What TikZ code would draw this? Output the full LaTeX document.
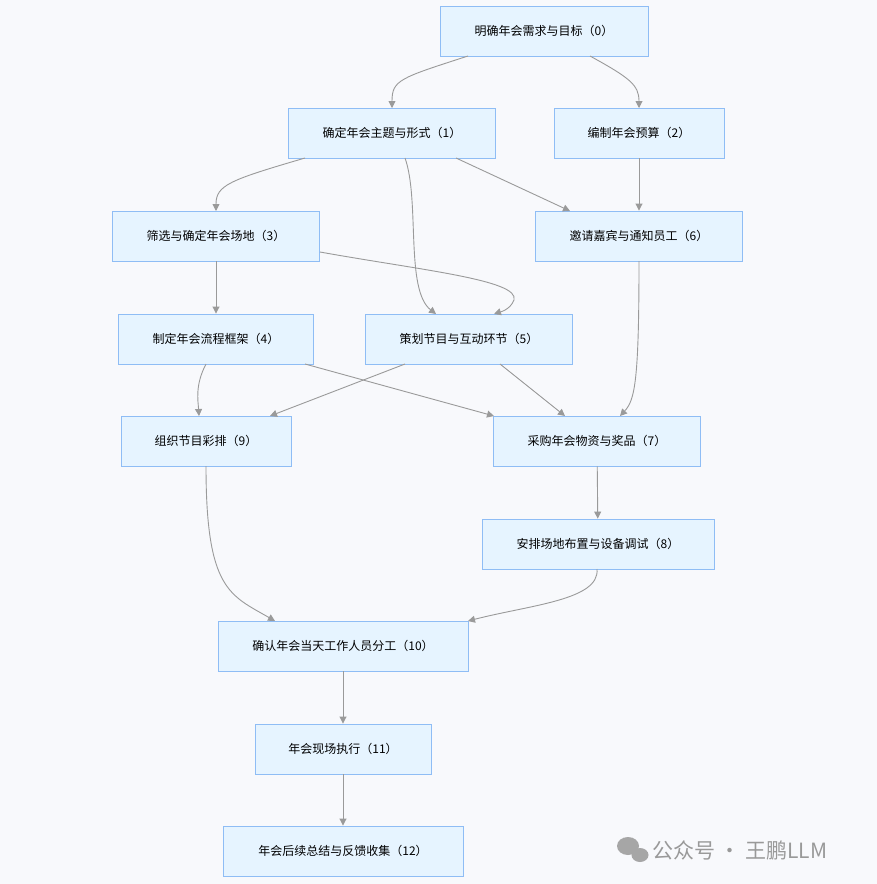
\documentclass[tikz,border=0pt]{standalone}
\usepackage{fontspec}
\setmainfont{Noto Sans CJK SC}
\usetikzlibrary{arrows.meta}
\definecolor{bg}{HTML}{F8F9FC}
\definecolor{nfill}{HTML}{E6F4FF}
\definecolor{nbord}{HTML}{8FBDF5}
\definecolor{edge}{HTML}{9A9A9A}
\begin{document}
\begin{tikzpicture}[x=1pt,y=-1pt,
  box/.style={draw=nbord,fill=nfill,line width=0.9pt,minimum height=50pt,inner sep=0pt,font=\fontsize{12}{14}\selectfont},
  link/.style={draw=edge,line width=0.9pt,-{Triangle[length=7pt,width=7pt]}}]
\fill[bg] (0,0) rectangle (877,884);
\useasboundingbox (0,0) rectangle (877,884);
\node[box,minimum width=208pt] (n0) at (544,31) {明确年会需求与目标（0）};
\node[box,minimum width=207pt] (n1) at (392,133) {确定年会主题与形式（1）};
\node[box,minimum width=170pt] (n2) at (639,133) {编制年会预算（2）};
\node[box,minimum width=207pt] (n3) at (216,236) {筛选与确定年会场地（3）};
\node[box,minimum width=207pt] (n6) at (639,236) {邀请嘉宾与通知员工（6）};
\node[box,minimum width=195pt] (n4) at (216,339) {制定年会流程框架（4）};
\node[box,minimum width=207pt] (n5) at (469,339) {策划节目与互动环节（5）};
\node[box,minimum width=170pt] (n9) at (206,441) {组织节目彩排（9）};
\node[box,minimum width=207pt] (n7) at (597,441) {采购年会物资与奖品（7）};
\node[box,minimum width=232pt] (n8) at (598,544) {安排场地布置与设备调试（8）};
\node[box,minimum width=250pt] (n10) at (343,646) {确认年会当天工作人员分工（10）};
\node[box,minimum width=176pt] (n11) at (343,749) {年会现场执行（11）};
\node[box,minimum width=240pt] (n12) at (343,851) {年会后续总结与反馈收集（12）};
\path[link] (468,56) .. controls (400,78) and (392,80) .. (392,108);
\path[link] (590,56) .. controls (630,78) and (639,85) .. (639,108);
\path[link] (305,158) .. controls (230,180) and (216,185) .. (216,211);
\path[link] (405,158) .. controls (420,200) and (405,290) .. (436,314);
\path[link] (456,158) -- (570,211);
\path[link] (n2) -- (n6);
\path[link] (n3) -- (n4);
\path[link] (320,252) .. controls (420,270) and (520,280) .. (514,300) .. controls (510,310) and (500,312) .. (494,314);
\path[link] (206,364) .. controls (195,385) and (198,400) .. (199,416);
\path[link] (305,364) -- (494,416);
\path[link] (405,364) -- (270,416);
\path[link] (500,364) -- (565,416);
\path[link] (639,261) .. controls (639,380) and (635,400) .. (620,416);
\path[link] (n7) -- (n8);
\path[link] (206,466) .. controls (206,590) and (230,595) .. (275,621);
\path[link] (597,569) .. controls (600,600) and (530,605) .. (468,621);
\path[link] (n10) -- (n11);
\path[link] (n11) -- (n12);
\node[font=\fontsize{21}{24}\selectfont,text=gray!80,anchor=west,inner sep=0pt] (wm) at (652,850) {公众号 · 王鹏LLM};
\fill[gray!70] (628,846) ellipse (11pt and 9pt);
\fill[gray!70] (640,855) ellipse (8.5pt and 7pt);
\end{tikzpicture}
\end{document}
